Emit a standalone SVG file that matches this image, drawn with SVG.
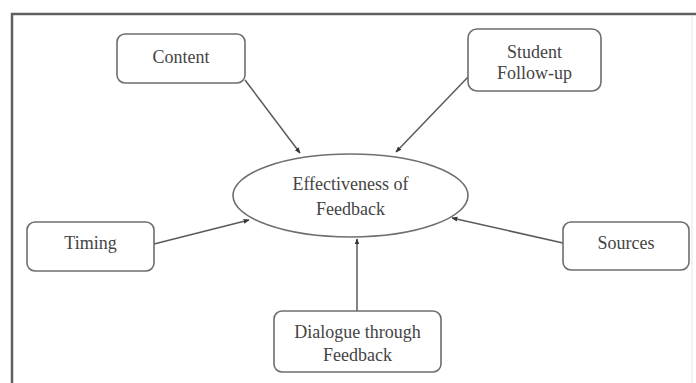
<svg xmlns="http://www.w3.org/2000/svg" width="696" height="383" viewBox="0 0 696 383">
<style>
.box{fill:#fff;stroke:#6e6e6e;stroke-width:1.6}
.lbl{font-family:"Liberation Serif","Times New Roman",serif;font-size:18px;fill:#444;text-anchor:middle}
.edge{stroke:#5a5a5a;stroke-width:1.5;fill:none;marker-end:url(#ah)}
</style>
<defs>
<marker id="ah" viewBox="0 0 10 10" refX="9" refY="5" markerWidth="6" markerHeight="6" orient="auto" markerUnits="userSpaceOnUse">
<path d="M0,1 L10,5 L0,9 z" fill="#333"/>
</marker>
</defs>
<rect width="696" height="383" fill="#fff"/>
<g id="frame">
<path d="M12,383 V14 H696" fill="none" stroke="#5f5f5f" stroke-width="2.5"/>
<path d="M692,16 V383" fill="none" stroke="#e6e6e6" stroke-width="1"/>
</g>
<g id="connectors">
<line class="edge" x1="245" y1="80" x2="300" y2="153"/>
<line class="edge" x1="468" y1="77" x2="396" y2="152"/>
<line class="edge" x1="154" y1="244" x2="249" y2="220"/>
<line class="edge" x1="563" y1="243" x2="452" y2="218"/>
<line class="edge" x1="357" y1="311" x2="357" y2="239"/>
</g>
<g id="center">
<ellipse cx="350.5" cy="195.5" rx="117.5" ry="41.5" class="box"/>
<text class="lbl" x="350.5" y="190">Effectiveness of</text>
<text class="lbl" x="350.5" y="215">Feedback</text>
</g>
<g id="content">
<rect class="box" x="117" y="34" width="128" height="49" rx="8"/>
<text class="lbl" x="181" y="63">Content</text>
</g>
<g id="student">
<rect class="box" x="468" y="29" width="133" height="62" rx="9"/>
<text class="lbl" x="534.5" y="58">Student</text>
<text class="lbl" x="534.5" y="79">Follow-up</text>
</g>
<g id="timing">
<rect class="box" x="27" y="222" width="127" height="49" rx="8"/>
<text class="lbl" x="90.5" y="249">Timing</text>
</g>
<g id="sources">
<rect class="box" x="563" y="222" width="126" height="48" rx="8"/>
<text class="lbl" x="626" y="249">Sources</text>
</g>
<g id="dialogue">
<rect class="box" x="274" y="311" width="167" height="61" rx="8"/>
<text class="lbl" x="357.5" y="338">Dialogue through</text>
<text class="lbl" x="357.5" y="361">Feedback</text>
</g>
</svg>
